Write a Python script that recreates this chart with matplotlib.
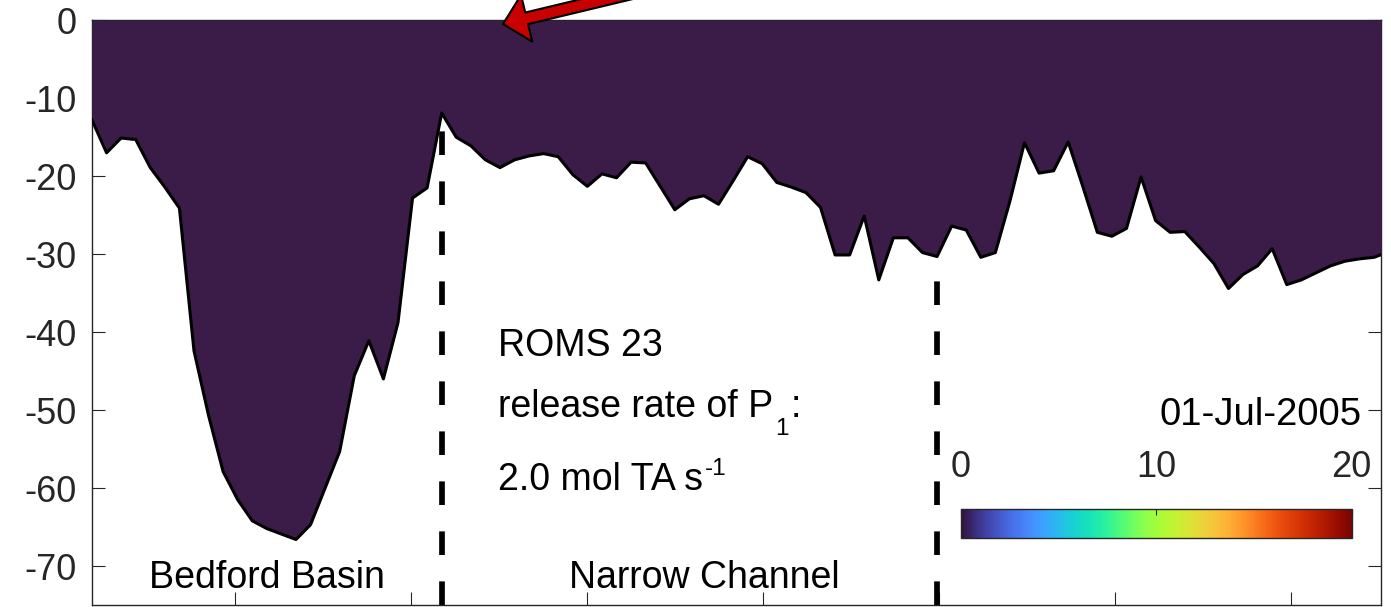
import numpy as np
import matplotlib
matplotlib.use("Agg")
import matplotlib.pyplot as plt
from matplotlib.patches import FancyArrowPatch
from matplotlib.colors import Normalize
from matplotlib.cm import ScalarMappable

plt.rcParams['font.family'] = ['Liberation Sans', 'DejaVu Sans']
plt.rcParams['axes.unicode_minus'] = False
plt.rcParams['lines.scale_dashes'] = False

# ---------------- data ----------------
depth_m = [
    -12.8, -17.0, -15.1, -15.3, -18.9, -21.4, -24.1, -42.4, -50.7, -57.9,
    -61.5, -64.2, -65.2, -65.9, -66.6, -64.7, -60.0, -55.3, -45.6, -41.1,
    -46.0, -38.8, -22.8, -21.5, -11.9, -15.0, -16.1, -17.9, -18.9, -17.9,
    -17.4, -17.1, -17.5, -19.8, -21.3, -19.7, -20.2, -18.2, -18.3, -21.3,
    -24.3, -22.9, -22.5, -23.6, -20.6, -17.5, -18.4, -20.8, -21.4, -22.1,
    -24.0, -30.1, -30.1, -25.1, -33.3, -27.9, -27.9, -29.8, -30.3, -26.4,
    -26.9, -30.4, -29.8, -23.2, -15.7, -19.6, -19.3, -15.6, -21.3, -27.2,
    -27.7, -26.7, -20.1, -25.7, -27.2, -27.1, -29.1, -31.2, -34.4, -32.6,
    -31.5, -29.3, -33.9, -33.3, -32.4, -31.5, -30.9, -30.6, -30.4, -29.7,
]
x_start_km = 0.375
dx_km = 0.16557
dist_km = x_start_km + dx_km * np.arange(len(depth_m))   # model grid

divider_idx = [24, 58]
region_labels = ['Bedford Basin', 'Narrow Channel']
region_label_x = [2.364, 7.334]
yticks = [0, -10, -20, -30, -40, -50, -60, -70]
ytick_labels = ['0', '-10', '-20', '-30', '-40', '-50', '-60', '-70']
xticks = [2, 4, 6, 8, 10, 12, 14]
date_label = '01-Jul-2005'
run_label = 'ROMS 23'
rate_label = 'release rate of P'
rate_sub = '1'
flux_label = '2.0 mol TA s'
flux_sup = '-1'
cbar_ticks = [0, 10, 20]
cbar_lim = (0, 20)

# ---------------- figure ----------------
W, H = 1391, 607
fig = plt.figure(figsize=(W / 100, H / 100), dpi=100)
ax = fig.add_axes([92 / W, 2 / H, 1289 / W, (605 - 20.3) / H])
ax.set_xlim(x_start_km, x_start_km + 1289 / 88)
ax.set_ylim(-75, 0)

fill_color = '#3b1b47'
ax.fill_between(dist_km, depth_m, 0, color=fill_color, lw=0, zorder=3)
ax.plot(dist_km, depth_m, color='k', lw=2.2, zorder=4, solid_joinstyle='round')

for i in divider_idx:
    ax.plot([dist_km[i], dist_km[i]], [-75, depth_m[i]], color='k', lw=4.1,
            dashes=(17, 19), dash_capstyle='butt', zorder=5)

ax.set_yticks(yticks)
ax.set_yticklabels(ytick_labels)
ax.set_xticks(xticks)
ax.set_xticklabels([])
ax.tick_params(direction='in', length=9.7, width=0.8, colors='#262626',
               labelsize=26, pad=10.8, left=True, right=True, top=True, bottom=True)
ax.set_axisbelow(True)
for s in ax.spines.values():
    s.set_linewidth(1.0)
    s.set_edgecolor('#262626')

# region labels
for lab, xl in zip(region_labels, region_label_x):
    ax.text(xl, -72.82, lab, ha='center', va='baseline', fontsize=27, color='k', zorder=6)

# run annotation
fs_main = 27
ax.text(4.989, -43.02, run_label, ha='left', va='baseline', fontsize=fs_main, color='k', zorder=6)
t_rel = ax.text(4.989, -50.85, rate_label, ha='left', va='baseline', fontsize=fs_main,
                color='k', zorder=6)
t_sub = ax.annotate(rate_sub, xy=(1, -50.85), xycoords=(t_rel, 'data'),
                    xytext=(1.5, -1.0), textcoords='offset points',
                    ha='left', va='top', fontsize=17.5, color='k', zorder=6)
ax.annotate(':', xy=(1, -50.85), xycoords=(t_sub, 'data'),
            xytext=(1.0, 0), textcoords='offset points',
            ha='left', va='baseline', fontsize=fs_main, color='k', zorder=6)
t_flux = ax.text(4.989, -60.25, flux_label, ha='left', va='baseline', fontsize=fs_main,
                 color='k', zorder=6)
ax.annotate(flux_sup, xy=(1, -60.25), xycoords=(t_flux, 'data'),
            xytext=(1.5, 11), textcoords='offset points',
            ha='left', va='baseline', fontsize=17.5, color='k', zorder=6)

# date
ax.text(14.807, -51.91, date_label, ha='right', va='baseline', fontsize=27.5, color='k', zorder=6)

# red arrow
arrow = FancyArrowPatch(posA=(795 / W, 1 + 46 / H), posB=(503 / W, 1 - 24 / H),
                        transform=fig.transFigure,
                        arrowstyle='simple,head_length=1.75,head_width=3.45,tail_width=0.86',
                        mutation_scale=10, fc='#c80000', ec='k', lw=1.5,
                        shrinkA=0, shrinkB=0, zorder=10)
fig.add_artist(arrow)

# colorbar
cax = fig.add_axes([960.5 / W, (H - 537.7) / H, 391.1 / W, 28.4 / H])
cb = fig.colorbar(ScalarMappable(norm=Normalize(*cbar_lim), cmap='turbo'), cax=cax,
                  orientation='horizontal', ticks=cbar_ticks)
cax.xaxis.set_ticks_position('top')
cax.tick_params(direction='in', length=4, width=0.8, labelsize=26, pad=17.3,
                colors='#262626')
cb.outline.set_edgecolor('#262626')
cb.outline.set_linewidth(1.0)

fig.savefig('out.png', dpi=100)
